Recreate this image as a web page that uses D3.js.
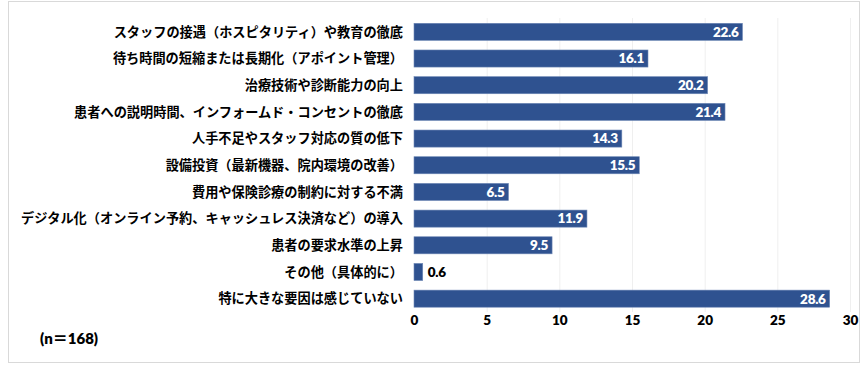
<!DOCTYPE html>
<html><head><meta charset="utf-8">
<script src="https://cdn.jsdelivr.net/npm/d3@7"></script>
<style>
body{margin:0;background:#fff;}
svg{display:block;}
</style></head><body>
<svg id="chart" width="866" height="367"></svg>
<script>
const categories = [
  "スタッフの接遇（ホスピタリティ）や教育の徹底",
  "待ち時間の短縮または長期化（アポイント管理）",
  "治療技術や診断能力の向上",
  "患者への説明時間、インフォームド・コンセントの徹底",
  "人手不足やスタッフ対応の質の低下",
  "設備投資（最新機器、院内環境の改善）",
  "費用や保険診療の制約に対する不満",
  "デジタル化（オンライン予約、キャッシュレス決済など）の導入",
  "患者の要求水準の上昇",
  "その他（具体的に）",
  "特に大きな要因は感じていない"
];
const values = [22.6, 16.1, 20.2, 21.4, 14.3, 15.5, 6.5, 11.9, 9.5, 0.6, 28.6];
const xTicks = [0, 5, 10, 15, 20, 25, 30];
const noteText = "(n＝168)";

const svg = d3.select("#chart");
const jp = "'Noto Sans CJK JP', sans-serif";
const num = "Lato, 'Noto Sans', sans-serif";

svg.append("rect").attr("x", 8.5).attr("y", 1.5).attr("width", 851).attr("height", 361)
  .attr("fill", "#fff").attr("stroke", "#d9d9d9").attr("stroke-width", 1);

const x = d3.scaleLinear().domain([0, 30]).range([414, 850]);
const y = d3.scaleBand().domain(categories).range([18.5, 312]).paddingInner(0.36).paddingOuter(0.18);

// gridlines
svg.append("g").selectAll("line").data(xTicks.slice(1)).join("line")
  .attr("x1", d => x(d) + 0.5).attr("x2", d => x(d) + 0.5)
  .attr("y1", 18).attr("y2", 312)
  .attr("stroke", "#efefef").attr("stroke-width", 1);

// bars
svg.append("g").selectAll("rect").data(values).join("rect")
  .attr("x", x(0)).attr("y", (d, i) => y(categories[i]))
  .attr("width", d => x(d) - x(0)).attr("height", y.bandwidth())
  .attr("fill", "#2F5290").attr("stroke", "#6d87b5").attr("stroke-width", 0.6);

// value labels
svg.append("g").selectAll("text").data(values).join("text")
  .attr("x", d => d < 3 ? x(d) + 5 : x(d) - 4)
  .attr("y", (d, i) => y(categories[i]) + y.bandwidth() / 2)
  .attr("dy", "0.36em")
  .attr("text-anchor", d => d < 3 ? "start" : "end")
  .attr("fill", d => d < 3 ? "#000" : "#fff")
  .attr("font-family", num).attr("font-weight", 800).attr("font-size", 13.5)
  .attr("letter-spacing", "-0.3")
  .text(d => d.toFixed(1));

// category labels
svg.append("g").selectAll("text").data(categories).join("text")
  .attr("x", 403).attr("y", d => y(d) + y.bandwidth() / 2)
  .attr("dy", "0.36em").attr("text-anchor", "end")
  .attr("font-family", jp).attr("font-weight", 700).attr("font-size", 13.2)
  .attr("fill", "#000")
  .text(d => d);

// x axis labels
const xAxis = d3.axisBottom(x).tickValues(xTicks).tickSize(0).tickPadding(0);
const gx = svg.append("g").attr("transform", "translate(0,315)").call(xAxis);
gx.select(".domain").remove();
gx.selectAll("text").attr("font-family", num).attr("font-weight", 800)
  .attr("font-size", 13.5).attr("fill", "#000").attr("dy", "0.71em");

svg.append("text").attr("x", 40).attr("y", 339).attr("dy", "0.36em")
  .attr("font-family", "Lato, 'Noto Sans CJK JP', sans-serif").attr("font-weight", 800).attr("font-size", 15)
  .attr("fill", "#000").text(noteText);
</script>
</body></html>
